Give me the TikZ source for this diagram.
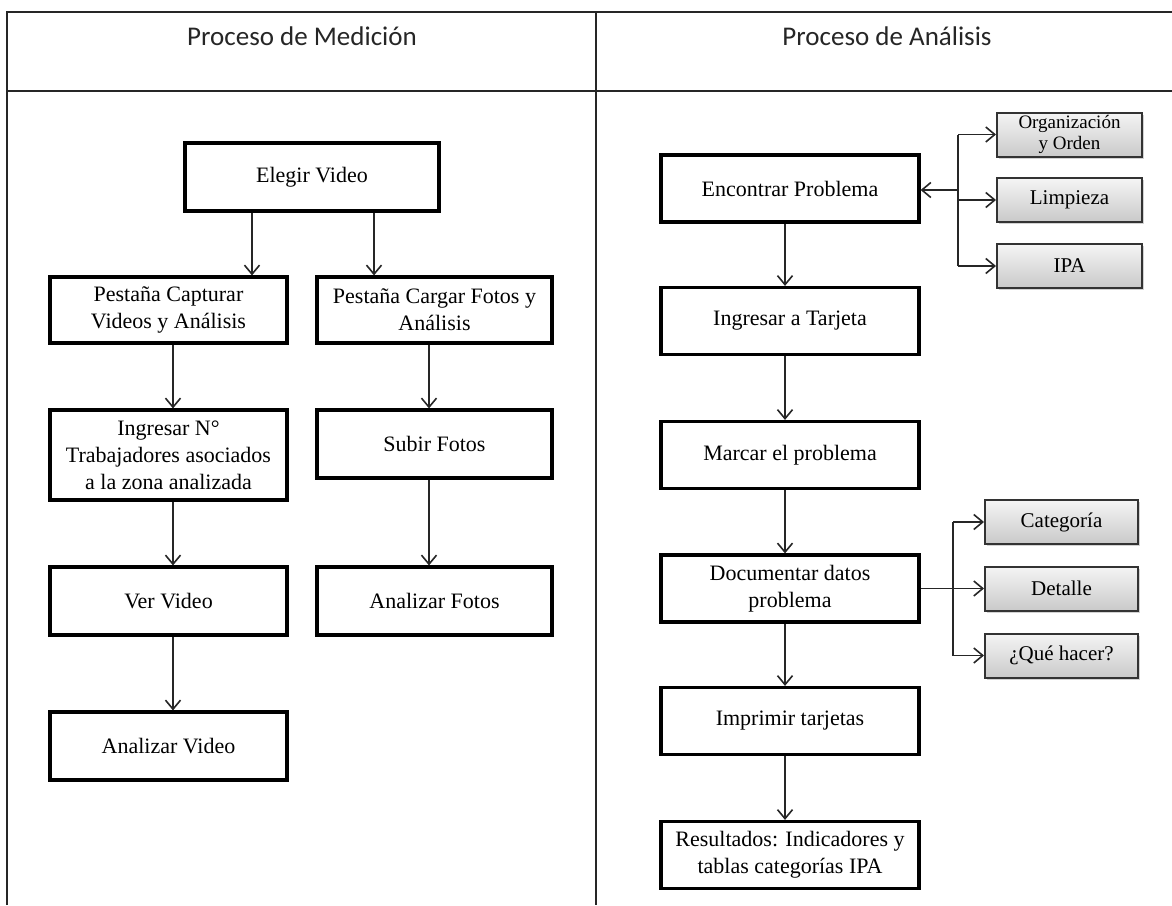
\documentclass[tikz,border=0pt]{standalone}
\usepackage{fontspec}
\setmainfont{Liberation Serif}
\newfontfamily\headfont{Carlito}
\usetikzlibrary{arrows.meta,shadows}
\begin{document}
\begin{tikzpicture}[x=1pt,y=-1pt,
  frame/.style={line width=2.4pt, draw=black!85},
  stepbox/.style={draw=black, line width=3.2pt, fill=white, align=center, inner sep=0pt,
    font=\fontsize{22}{27}\selectfont},
  subbox/.style={draw=black!80, line width=2pt, top color=gray!8, bottom color=gray!42,
    align=center, inner sep=0pt, font=\fontsize{21}{22}\selectfont,
    minimum width=148pt, minimum height=44pt,
    drop shadow={shadow xshift=2pt, shadow yshift=-2pt, opacity=0.35, fill=gray}},
  conn/.style={draw=black!85, line width=1.6pt},
  arr/.style={conn, -{Straight Barb[length=9pt,width=15pt,line width=1.6pt]}},
  title/.style={font=\headfont\fontsize{27}{30}\selectfont, text=black!85}
]
\useasboundingbox[fill=white] (0,0) rectangle (1172,905);

% table frame with header row and column divider
\draw[frame] (7,905) -- (7,12) -- (1172,12);
\draw[frame] (7,91) -- (1172,91);
\draw[frame] (596,12) -- (596,905);

\node[title] (h1) at (302,36) {Proceso de Medición};
\node[title] (h2) at (887,36) {Proceso de Análisis};

% measurement process
\node[stepbox, minimum width=254pt, minimum height=68pt] (elegir) at (312,177) {Elegir Video};
\node[stepbox, minimum width=237pt, minimum height=66pt] (capt) at (168.5,310) {Pestaña Capturar\\Videos y Análisis};
\node[stepbox, minimum width=235pt, minimum height=66pt] (carg) at (434.5,310) {Pestaña Cargar Fotos y\\Análisis};
\node[stepbox, minimum width=237pt, minimum height=90pt] (ingr) at (168.5,455) {Ingresar N°\\Trabajadores asociados\\a la zona analizada};
\node[stepbox, minimum width=235pt, minimum height=68pt] (subir) at (434.5,444) {Subir Fotos};
\node[stepbox, minimum width=237pt, minimum height=68pt] (ver) at (168.5,601) {Ver Video};
\node[stepbox, minimum width=235pt, minimum height=68pt] (anafot) at (434.5,601) {Analizar Fotos};
\node[stepbox, minimum width=237pt, minimum height=68pt] (anavid) at (168.5,746) {Analizar Video};

\draw[arr] ([xshift=-60pt]elegir.south) -- ([xshift=-60pt]elegir.south |- capt.north);
\draw[arr] ([xshift=62pt]elegir.south) -- ([xshift=62pt]elegir.south |- carg.north);
\draw[arr] ([xshift=4.5pt]capt.south) -- ([xshift=4.5pt]ingr.north);
\draw[arr] ([xshift=4.5pt]ingr.south) -- ([xshift=4.5pt]ver.north);
\draw[arr] ([xshift=4.5pt]ver.south) -- ([xshift=4.5pt]anavid.north);
\draw[arr] ([xshift=-5.5pt]carg.south) -- ([xshift=-5.5pt]subir.north);
\draw[arr] ([xshift=-5.5pt]subir.south) -- ([xshift=-5.5pt]anafot.north);

% analysis process
\tikzset{rbox/.style={stepbox, minimum width=258pt, minimum height=67pt}}
\node[rbox] (enc) at (790,188.5) {Encontrar Problema};
\node[rbox] (tarj) at (790,321) {Ingresar a Tarjeta};
\node[rbox] (marc) at (790,455) {Marcar el problema};
\node[rbox] (doc) at (790,588.5) {Documentar datos\\problema};
\node[rbox] (impr) at (790,721) {Imprimir tarjetas};
\node[rbox] (res) at (790,855) {Resultados: Indicadores y\\tablas categorías IPA};

\draw[arr] ([xshift=-5pt]enc.south) -- ([xshift=-5pt]tarj.north);
\draw[arr] ([xshift=-5pt]tarj.south) -- ([xshift=-5pt]marc.north);
\draw[arr] ([xshift=-5pt]marc.south) -- ([xshift=-5pt]doc.north);
\draw[arr] ([xshift=-5pt]doc.south) -- ([xshift=-5pt]impr.north);
\draw[arr] ([xshift=-5pt]impr.south) -- ([xshift=-5pt]res.north);

% problem types
\node[subbox, minimum width=145pt, font=\fontsize{19}{21}\selectfont] (org) at (1069.5,134.5) {Organización\\y Orden};
\node[subbox, minimum width=145pt] (limp) at (1069.5,200) {Limpieza};
\node[subbox, minimum width=145pt] (ipa) at (1069.5,266) {IPA};

\coordinate (j1) at (958,190);
\draw[conn] (j1 |- org.west) -- (j1 |- ipa.west);
\draw[arr] (j1 |- org.west) -- (org.west);
\draw[arr] (j1 |- limp.west) -- (limp.west);
\draw[arr] (j1 |- ipa.west) -- (ipa.west);
\draw[arr, line width=2.2pt] (j1) -- (j1 -| enc.east);

% problem data
\node[subbox, minimum width=153pt] (cat) at (1061.5,522) {Categoría};
\node[subbox, minimum width=153pt] (det) at (1061.5,588.5) {Detalle};
\node[subbox, minimum width=153pt] (que) at (1061.5,655.5) {¿Qué hacer?};

\coordinate (j2) at (953,588.5);
\draw[conn] (j2 |- cat.west) -- (j2 |- que.west);
\draw[arr] (j2 |- cat.west) -- (cat.west);
\draw[arr] (j2 |- que.west) -- (que.west);
\draw[arr] (doc.east) -- (doc.east -| det.west);
\end{tikzpicture}
\end{document}
